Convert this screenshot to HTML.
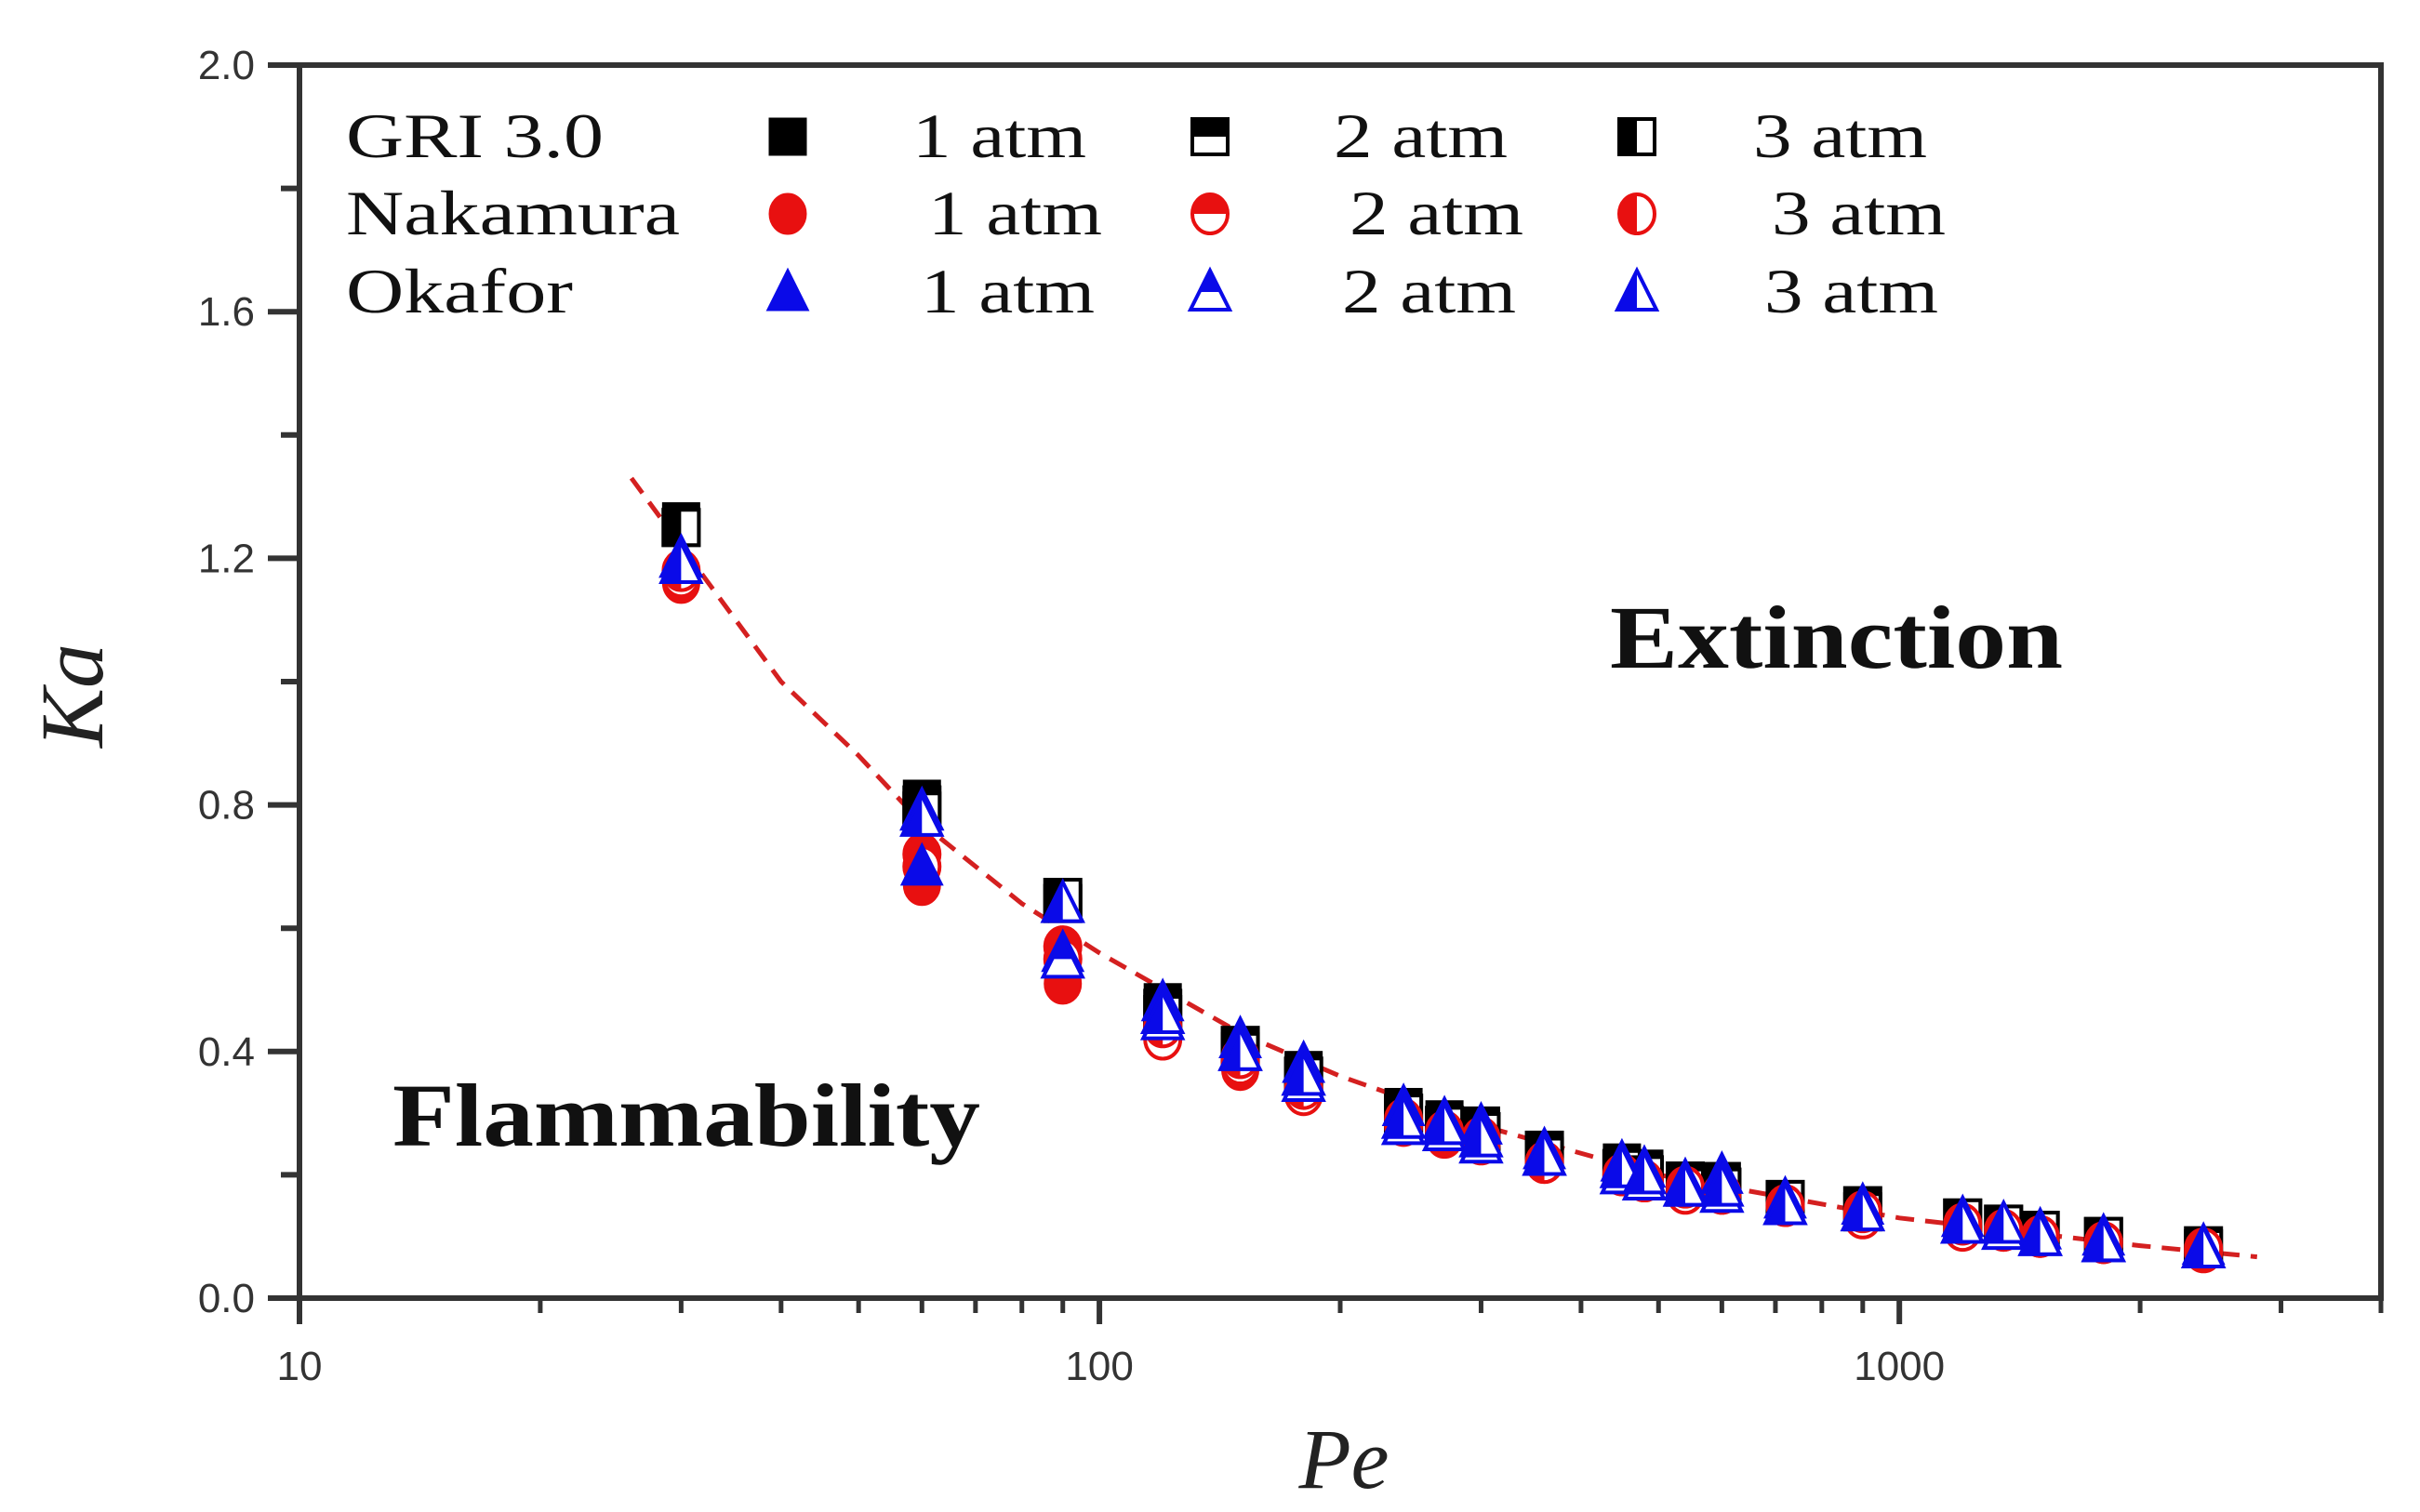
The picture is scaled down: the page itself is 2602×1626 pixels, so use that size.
<!DOCTYPE html>
<html><head><meta charset="utf-8"><style>
html,body{margin:0;padding:0;background:#fff;}
svg{display:block;}
</style></head><body>
<svg id="chart" width="2602" height="1626" viewBox="0 0 2602 1626" xmlns="http://www.w3.org/2000/svg">
<defs>
<clipPath id="sqTop"><rect x="-40" y="-40" width="80" height="40"/></clipPath>
<clipPath id="sqLeft"><rect x="-40" y="-40" width="40" height="80"/></clipPath>
</defs>
<g id="axes"></g>
<g id="curve"></g>
<g id="marks"></g>
<g id="legend"></g>
<text x="1731" y="718" textLength="487" lengthAdjust="spacingAndGlyphs" font-family="Liberation Serif, serif" font-weight="bold" font-size="96" fill="#111">Extinction</text>
<text x="422" y="1232" textLength="632" lengthAdjust="spacingAndGlyphs" font-family="Liberation Serif, serif" font-weight="bold" font-size="96" fill="#111">Flammability</text>
<text transform="translate(110,748) rotate(-90)" text-anchor="middle" font-family="Liberation Serif, serif" font-style="italic" font-size="96" fill="#222">Ka</text>
<text x="1445" y="1600" text-anchor="middle" font-family="Liberation Serif, serif" font-style="italic" font-size="92" fill="#222">Pe</text>
</svg>
<script>
const peValues = [30,60,90,120,150,180,240,270,300,360,450,480,540,600,720,900,1200,1350,1500,1800,2400];
const gri1 = [1.26,0.81,0.65,0.48,0.41,0.37,0.31,0.29,0.28,0.24,0.22,0.21,0.19,0.19,0.16,0.15,0.13,0.12,0.11,0.10,0.085];
const gri2 = [1.25,0.80,0.64,0.47,0.41,0.36,0.30,0.28,0.27,0.24,0.21,0.20,0.19,0.18,0.16,0.15,0.13,0.12,0.11,0.10,0.085];
const gri3 = [1.25,0.79,0.65,0.46,0.40,0.36,0.30,0.28,0.27,0.23,0.21,0.20,0.18,0.18,0.16,0.14,0.13,0.12,0.11,0.10,0.08];
const nak1 = [1.16,0.67,0.51,0.43,0.37,0.33,0.29,0.26,0.25,0.22,0.20,0.19,0.17,0.17,0.15,0.13,0.12,0.11,0.10,0.09,0.075];
const nak2 = [1.17,0.72,0.57,0.42,0.38,0.33,0.28,0.27,0.25,0.22,0.20,0.19,0.17,0.17,0.15,0.13,0.11,0.11,0.10,0.09,0.075];
const nak3 = [1.18,0.70,0.55,0.44,0.39,0.34,0.29,0.27,0.26,0.22,0.20,0.19,0.18,0.17,0.15,0.14,0.12,0.11,0.10,0.09,0.08];
const oka1 = [1.20,0.70,0.56,0.48,0.42,0.38,0.31,0.29,0.28,0.24,0.22,0.21,0.19,0.20,0.16,0.15,0.13,0.12,0.11,0.10,0.085];
const oka2 = [1.20,0.79,0.55,0.45,0.40,0.35,0.28,0.27,0.25,0.23,0.20,0.19,0.18,0.17,0.15,0.14,0.12,0.11,0.10,0.09,0.08];
const oka3 = [1.19,0.78,0.64,0.46,0.40,0.36,0.29,0.28,0.26,0.23,0.21,0.20,0.18,0.18,0.15,0.14,0.12,0.12,0.10,0.09,0.08];
const curvePe = [26,30,40,50,60,80,100,150,200,300,500,1000,2000,2800];
const curveKa = [1.33,1.22,1.0,0.88,0.77,0.64,0.56,0.43,0.36,0.28,0.20,0.13,0.085,0.067];
const yTicks = [0,0.4,0.8,1.2,1.6,2.0];
const yTickLabels = ["0.0","0.4","0.8","1.2","1.6","2.0"];
const xTicks = [10,100,1000];
const xTickLabels = ["10","100","1000"];

const NS = "http://www.w3.org/2000/svg";
const L = 322, R = 2560, T = 70, B = 1396;
const xMin = 10, xMax = 4000;
function xs(v){ return L + (Math.log10(v) - Math.log10(xMin)) / (Math.log10(xMax) - Math.log10(xMin)) * (R - L); }
function ys(v){ return B - v / 2.0 * (B - T); }
function mk(tag, attrs, parent){ const e = document.createElementNS(NS, tag); for (const k in attrs) e.setAttribute(k, attrs[k]); parent.appendChild(e); return e; }

const axes = document.getElementById('axes');
const frame = mk('rect', {x:L, y:T, width:R-L, height:B-T, fill:'none', stroke:'#333', 'stroke-width':6}, axes);


yTicks.forEach((v, i) => {
  const t = mk('line', {x1:L-34, x2:L, y1:ys(v), y2:ys(v), stroke:'#333', 'stroke-width':6}, axes);
  
  
  const lb = mk('text', {x:L-48, y:ys(v)+15, 'text-anchor':'end', 'font-family':'Liberation Sans, sans-serif', 'font-size':44, fill:'#333'}, axes);
  lb.textContent = yTickLabels[i];
  
  
  if (i < yTicks.length - 1) {
    const m = mk('line', {x1:L-20, x2:L, y1:ys(v+0.2), y2:ys(v+0.2), stroke:'#333', 'stroke-width':6}, axes);
    
    
  }
});
xTicks.forEach((v, i) => {
  const t = mk('line', {x1:xs(v), x2:xs(v), y1:B, y2:B+28, stroke:'#333', 'stroke-width':6}, axes);
  
  
  const lb = mk('text', {x:xs(v), y:B+88, 'text-anchor':'middle', 'font-family':'Liberation Sans, sans-serif', 'font-size':44, fill:'#333'}, axes);
  lb.textContent = xTickLabels[i];
  
  
  for (let k = 2; k <= 9; k++) {
    const mv = v * k;
    if (mv > xMax) break;
    const m = mk('line', {x1:xs(mv), x2:xs(mv), y1:B, y2:B+16, stroke:'#333', 'stroke-width':5}, axes);
    
    
  }
});

const curveG = document.getElementById('curve');
const pth = mk('path', {d: curvePe.map((p, i) => (i ? 'L' : 'M') + xs(p).toFixed(1) + ',' + ys(curveKa[i]).toFixed(1)).join(' '), fill:'none', stroke:'#d42020', 'stroke-width':5, 'stroke-dasharray':'20 12'}, curveG);



const S = 38;
function marker(parent, shape, fill, color, cx, cy){
  const g = mk('g', {transform:'translate(' + cx + ',' + cy + ')'}, parent);
  let base;
  if (shape === 'sq') base = (a) => mk('rect', Object.assign({x:-S/2, y:-S/2, width:S, height:S}, a), g);
  else if (shape === 'ci') base = (a) => mk('ellipse', Object.assign({cx:0, cy:0, rx:S/2, ry:S/2+2}, a), g);
  else base = (a) => mk('polygon', Object.assign({points:(-S/2-2)+','+(S/2)+' 0,'+(-S/2-4)+' '+(S/2+2)+','+(S/2)}, a), g);
  if (fill === 'full') base({fill:color, stroke:color, 'stroke-width':3});
  else {
    base({fill:'#fff', stroke:color, 'stroke-width':4});
    base({fill:color, stroke:color, 'stroke-width':3, 'clip-path': fill === 'top' ? 'url(#sqTop)' : 'url(#sqLeft)'});
  }
  return g;
}
const seriesList = [
  [gri1,'sq','full','#000'],[gri2,'sq','top','#000'],[gri3,'sq','left','#000'],
  [nak1,'ci','full','#e81010'],[nak2,'ci','top','#e81010'],[nak3,'ci','left','#e81010'],
  [oka1,'tr','full','#0a0ae8'],[oka2,'tr','top','#0a0ae8'],[oka3,'tr','left','#0a0ae8']
];
const marks = document.getElementById('marks');
seriesList.forEach(s => {
  s[0].forEach((v, i) => {
    const g = marker(marks, s[1], s[2], s[3], xs(peValues[i]), ys(v));
    
    
  });
});

const legend = document.getElementById('legend');
const rowsY = [147, 230, 314];
const rowNames = ['GRI 3.0','Nakamura','Okafor'];
const rowNameW = [277, 359, 244];
const shapes = ['sq','ci','tr'];
const colors = ['#000','#e81010','#0a0ae8'];
const fills = ['full','top','left'];
const mX = [847, 1301, 1760];
const tX = [[981,1434,1885],[998,1451,1905],[990,1443,1897]];
rowsY.forEach((y, r) => {
  const nm = mk('text', {x:372, y:y+22, textLength:rowNameW[r], lengthAdjust:'spacingAndGlyphs', 'font-family':'Liberation Serif, serif', 'font-size':68, fill:'#111'}, legend);
  nm.textContent = rowNames[r];
  
  
  for (let c = 0; c < 3; c++) {
    const g = marker(legend, shapes[r], fills[c], colors[r], mX[c], y);
    
    
    const t = mk('text', {x:tX[r][c], y:y+22, textLength:187, lengthAdjust:'spacingAndGlyphs', 'font-family':'Liberation Serif, serif', 'font-size':68, fill:'#111'}, legend);
    t.textContent = (c+1) + ' atm';
    
    
  }
});
</script>
</body></html>
